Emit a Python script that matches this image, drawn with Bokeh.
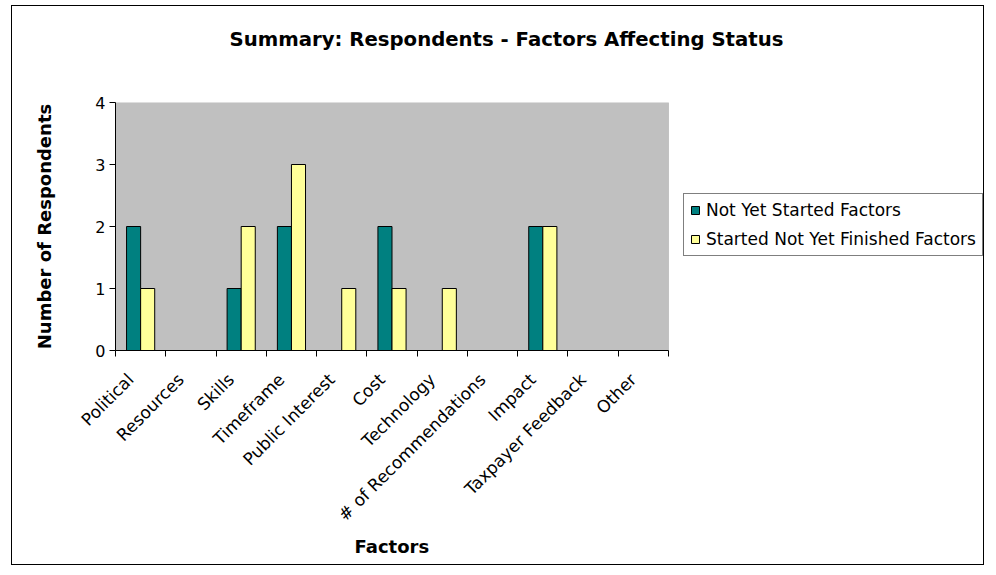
import math
from bokeh.plotting import figure
from bokeh.models import (ColumnDataSource, FixedTicker, Range1d, Legend,
                          LegendItem, BoxAnnotation, Title)
from bokeh.embed import file_html
from bokeh.resources import INLINE

# ---- data ----
factors = ["Political", "Resources", "Skills", "Timeframe", "Public Interest",
           "Cost", "Technology", "# of Recommendations", "Impact",
           "Taxpayer Feedback", "Other"]
not_yet_started = [2, 0, 1, 2, 0, 2, 0, 0, 2, 0, 0]
started_not_finished = [1, 0, 2, 3, 1, 1, 1, 0, 2, 0, 0]
series_names = ["Not Yet Started Factors", "Started Not Yet Finished Factors"]
y_ticks = [0, 1, 2, 3, 4]
title_text = "Summary: Respondents - Factors Affecting Status"
x_title = "Factors"
y_title = "Number of Respondents"

TEAL = "#008080"
YELLOW = "#FFFF99"
FONT = "DejaVu Sans"

# layout (pixels)
W, H = 973, 560
LEFT, TOP, BOTTOM, RIGHT = 103, 96, 216, 0
PLOT_W = 553          # width of the grey plot area
n = len(factors)
x_end = n * (W - LEFT - RIGHT) / PLOT_W   # frame extends right to hold legend
LABEL_SHIFT = 0.2     # category labels sit slightly left of the category centre

centers = [i + 0.5 for i in range(n)]
label_pos = [c - LABEL_SHIFT for c in centers]
bar_w = 0.28


def make_source(vals, shift):
    xs = [c + shift for c, v in zip(centers, vals) if v > 0]
    tops = [v for v in vals if v > 0]
    return ColumnDataSource(dict(x=xs, top=tops))


p = figure(width=W, height=H, output_backend="svg", toolbar_location=None,
           x_range=Range1d(0, x_end), y_range=Range1d(y_ticks[0], y_ticks[-1]),
           min_border_left=LEFT, min_border_right=RIGHT, min_border_top=TOP,
           min_border_bottom=BOTTOM)

p.background_fill_color = "white"
p.border_fill_color = "white"
p.outline_line_color = None
p.xgrid.visible = False
p.ygrid.visible = False
p.styles = {"border": "1px solid black", "margin-left": "11px", "margin-top": "5px"}

# grey plot area
p.add_layout(BoxAnnotation(left=0, right=n, bottom=y_ticks[0], top=y_ticks[-1],
                           fill_color="#C0C0C0", fill_alpha=1,
                           line_color="#808080", line_width=1, level="underlay"))

r1 = p.vbar(x="x", top="top", bottom=0, width=bar_w,
            source=make_source(not_yet_started, -bar_w / 2),
            fill_color=TEAL, line_color="black", line_width=1)
r2 = p.vbar(x="x", top="top", bottom=0, width=bar_w,
            source=make_source(started_not_finished, bar_w / 2),
            fill_color=YELLOW, line_color="black", line_width=1)

# title
p.title.text = title_text
p.title.text_font = FONT
p.title.text_font_size = "19.7px"
p.title.text_font_style = "bold"
p.title.text_color = "black"
p.title.align = "left"
p.title.offset = 114
p.title.standoff = 39

# spacer between the title and the plot area
p.add_layout(Title(text=" ", text_font_size="1px", standoff=29), "above")

# x axis
xa = p.xaxis[0]
xa.bounds = (0, n)
xa.ticker = FixedTicker(ticks=label_pos, minor_ticks=list(range(n + 1)))
xa.major_label_overrides = {c: f for c, f in zip(label_pos, factors)}
xa.major_label_orientation = math.pi / 4
xa.major_tick_out = 0
xa.major_tick_in = 0
xa.minor_tick_out = 6
xa.minor_tick_in = 0
xa.minor_tick_line_color = "black"
xa.axis_line_color = "black"
xa.major_label_text_font = FONT
xa.major_label_text_font_size = "17px"
xa.major_label_text_color = "black"
xa.major_label_standoff = 20

# x axis title, placed under the grey area (not centred on the widened frame)
xt = Title(text=x_title, align="left", offset=239, vertical_align="top",
           standoff=2, text_font=FONT, text_font_size="18px",
           text_font_style="bold", text_color="black")
p.add_layout(xt, "below")

# y axis
ya = p.yaxis[0]
ya.bounds = (y_ticks[0], y_ticks[-1])
ya.ticker = FixedTicker(ticks=y_ticks, minor_ticks=[])
ya.major_tick_out = 6
ya.major_tick_in = 0
ya.major_tick_line_color = "black"
ya.axis_line_color = "black"
ya.major_label_text_font = FONT
ya.major_label_text_font_size = "16px"
ya.major_label_text_color = "black"
ya.major_label_standoff = 4
ya.axis_label = y_title
ya.axis_label_text_font = FONT
ya.axis_label_text_font_size = "18px"
ya.axis_label_text_font_style = "bold"
ya.axis_label_text_color = "black"
ya.axis_label_standoff = 37

# legend (inside the widened frame, to the right of the grey area)
legend = Legend(items=[LegendItem(label=series_names[0], renderers=[r1]),
                       LegendItem(label=series_names[1], renderers=[r2])],
                location=(PLOT_W + 15, 94))
legend.border_line_color = "black"
legend.border_line_width = 1
legend.background_fill_color = "white"
legend.background_fill_alpha = 1
legend.label_text_font = FONT
legend.label_text_font_size = "17px"
legend.label_text_color = "black"
legend.glyph_width = 10
legend.glyph_height = 10
legend.label_standoff = 6
legend.label_height = 20
legend.spacing = 9
legend.padding = 6
legend.margin = 0
p.add_layout(legend)

open("out.html", "w").write(file_html(p, INLINE))
